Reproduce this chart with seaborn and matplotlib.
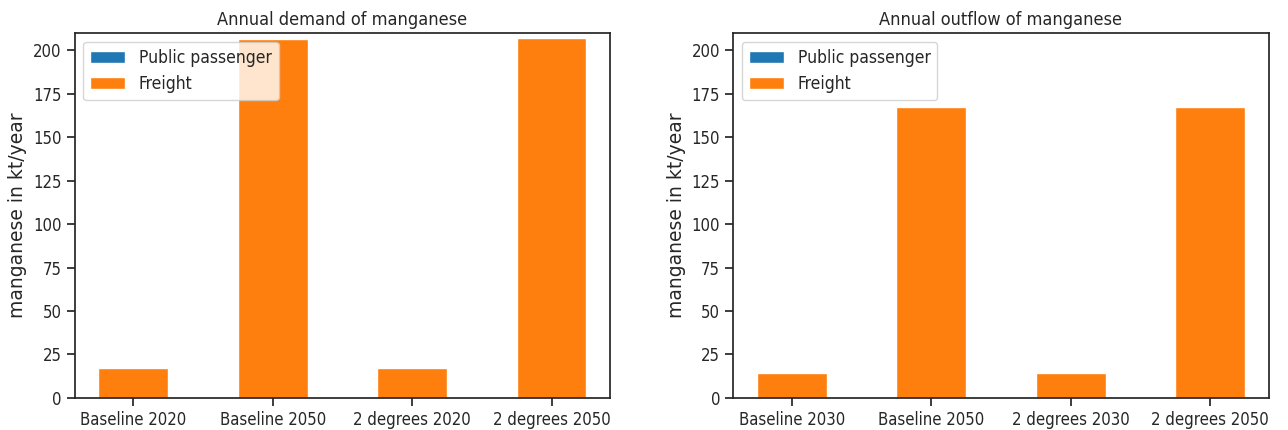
import matplotlib
matplotlib.use('Agg')
import matplotlib.pyplot as plt
import seaborn as sns
import pandas as pd

# scenario labels per panel
demand_scenarios = ['Baseline 2020', 'Baseline 2050', '2 degrees 2020', '2 degrees 2050']
outflow_scenarios = ['Baseline 2030', 'Baseline 2050', '2 degrees 2030', '2 degrees 2050']

# manganese in kt/year
demand_public = [0.0, 0.0, 0.0, 0.0]
demand_freight = [17.0, 206.5, 17.0, 207.2]
outflow_public = [0.0, 0.0, 0.0, 0.0]
outflow_freight = [14.3, 167.6, 14.3, 167.6]

sns.set_style('ticks')
sns.set_context('notebook')
plt.rcParams['font.family'] = ['DejaVu Sans']
plt.rcParams['font.stretch'] = 'condensed'
plt.rcParams['xtick.labelsize'] = 12
plt.rcParams['ytick.labelsize'] = 12

blue, orange = sns.color_palette('tab10')[:2]


def stacked(ax, scenarios, public, freight, title):
    df = pd.DataFrame({'scenario': scenarios, 'Public passenger': public, 'Freight': freight})
    sns.barplot(data=df, x='scenario', y='Public passenger', color=blue, width=0.5,
                saturation=1, ax=ax, label='Public passenger')
    sns.barplot(data=df, x='scenario', y='Freight', bottom=df['Public passenger'], color=orange,
                width=0.5, saturation=1, ax=ax, label='Freight')
    ax.set_xlim(-0.42, 3.42)
    ax.set_ylim(0, 210)
    ax.set_title(title, fontsize=13)
    ax.set_xlabel('')
    ax.set_ylabel('manganese in kt/year', fontsize=13.5, fontstretch='normal')
    ax.legend(loc='upper left', fontsize=12.5)
    for s in ax.spines.values():
        s.set_visible(True)


fig, axes = plt.subplots(1, 2, figsize=(12.88, 4.3), dpi=100)
stacked(axes[0], demand_scenarios, demand_public, demand_freight, 'Annual demand of manganese')
stacked(axes[1], outflow_scenarios, outflow_public, outflow_freight, 'Annual outflow of manganese')
fig.subplots_adjust(left=0.058, right=0.985, bottom=0.075, top=0.923, wspace=0.23)
fig.savefig('out.png', dpi=100)
